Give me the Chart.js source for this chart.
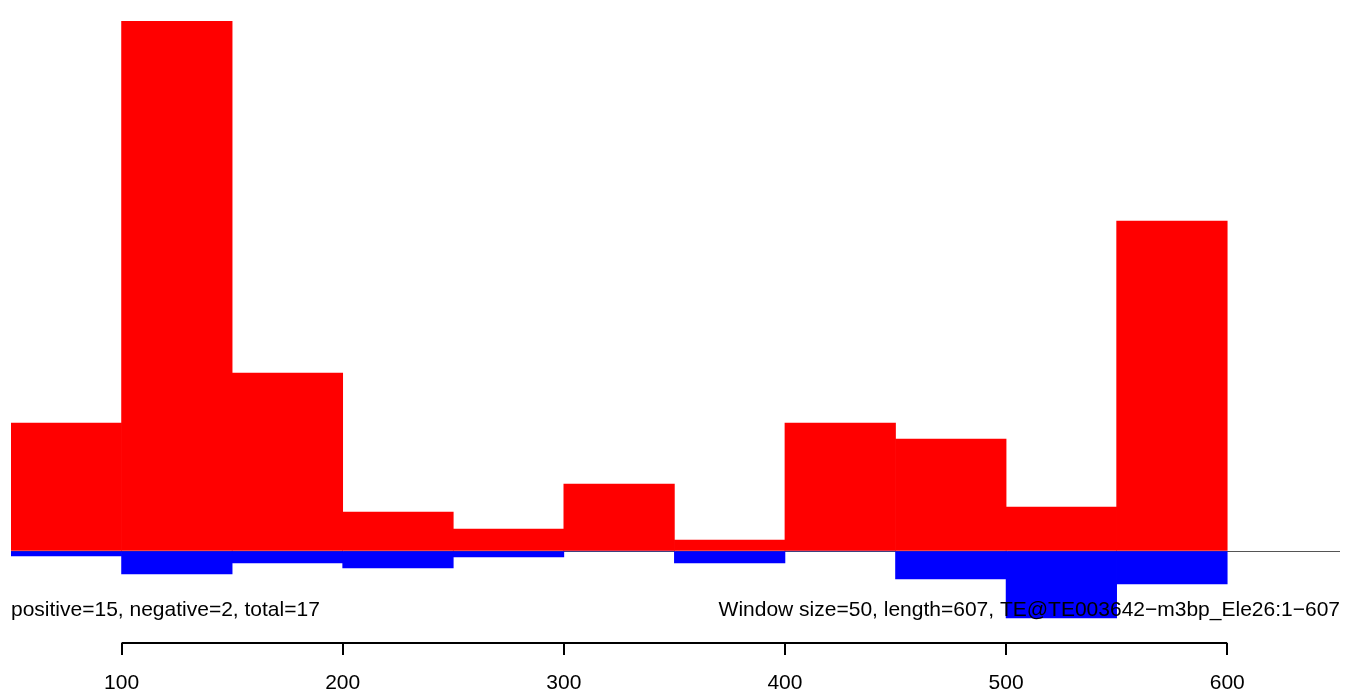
<!DOCTYPE html>
<html>
<head>
<meta charset="utf-8">
<script src="https://cdn.jsdelivr.net/npm/chart.js@4/dist/chart.umd.min.js"></script>
<style>
  html, body { margin: 0; padding: 0; background: #fff; }
  #wrap { width: 1357px; height: 693px; }
</style>
</head>
<body>
<div id="wrap"><canvas id="windowChart"></canvas></div>
<script>
// window centres (size 50) and scores per window
const binCenters = [75, 125, 175, 225, 275, 325, 375, 425, 475, 525, 575];
const positiveValues = [12.8, 53.0, 17.8, 3.9, 2.2, 6.7, 1.1, 12.8, 11.2, 4.4, 33.0];
const negativeValues = [-0.5, -2.3, -1.2, -1.7, -0.6, 0, -1.2, 0, -2.8, -6.7, -3.3];
const tickValues = [100, 200, 300, 400, 500, 600];
const leftNote = 'positive=15, negative=2, total=17';
const rightNote = 'Window size=50, length=607, TE@TE003642\u2212m3bp_Ele26:1\u2212607';

const fontFamily = '"Liberation Sans", Arial, Helvetica, sans-serif';

// axis line only between first and last tick, like R's axis()
const axisLinePlugin = {
    id: 'axisLine',
    afterDraw(chart) {
        const ctx = chart.ctx;
        const x = chart.scales.x;
        const area = chart.chartArea;
        ctx.save();
        ctx.strokeStyle = '#000';
        ctx.lineWidth = 2;
        ctx.beginPath();
        ctx.moveTo(x.getPixelForValue(tickValues[0]), area.bottom);
        ctx.lineTo(x.getPixelForValue(tickValues[tickValues.length - 1]), area.bottom);
        ctx.stroke();

        // notes under the bars
        ctx.fillStyle = '#000';
        ctx.font = '21px ' + fontFamily;
        ctx.textBaseline = 'middle';
        ctx.textAlign = 'left';
        ctx.fillText(leftNote, area.left, 610);
        ctx.textAlign = 'right';
        ctx.fillText(rightNote, area.right, 610);
        ctx.restore();
    }
};

const ctx = document.getElementById('windowChart').getContext('2d');
new Chart(ctx, {
    type: 'bar',
    data: {
        datasets: [{
            label: 'positive',
            data: binCenters.map((c, i) => ({ x: c, y: positiveValues[i] })),
            backgroundColor: '#ff0000',
            borderWidth: 0,
            grouped: false,
            barPercentage: 1,
            categoryPercentage: 1
        }, {
            label: 'negative',
            data: binCenters.map((c, i) => ({ x: c, y: negativeValues[i] })),
            backgroundColor: '#0000ff',
            borderWidth: 0,
            grouped: false,
            barPercentage: 1,
            categoryPercentage: 1
        }]
    },
    plugins: [axisLinePlugin],
    options: {
        responsive: true,
        maintainAspectRatio: false,
        animation: false,
        layout: {
            padding: { left: 11, right: 17, top: 21, bottom: 0 }
        },
        plugins: {
            legend: { display: false },
            tooltip: { enabled: false }
        },
        scales: {
            x: {
                type: 'linear',
                min: 50,
                max: 651,
                offset: false,
                afterBuildTicks: scale => {
                    scale.ticks = tickValues.map(v => ({ value: v }));
                },
                afterFit: scale => {
                    scale.height = 50;
                },
                grid: {
                    offset: false,
                    drawOnChartArea: false,
                    drawTicks: true,
                    tickLength: 12,
                    color: '#000',
                    lineWidth: 2
                },
                border: { display: false },
                ticks: {
                    color: '#000',
                    padding: 16,
                    maxRotation: 0,
                    font: { family: fontFamily, size: 21 }
                }
            },
            y: {
                min: -9.2,
                max: 53.0,
                afterBuildTicks: scale => {
                    scale.ticks = [{ value: 0 }];
                },
                grid: {
                    color: '#555',
                    lineWidth: 1,
                    drawTicks: false
                },
                border: { display: false },
                ticks: { display: false }
            }
        }
    }
});
</script>
</body>
</html>
